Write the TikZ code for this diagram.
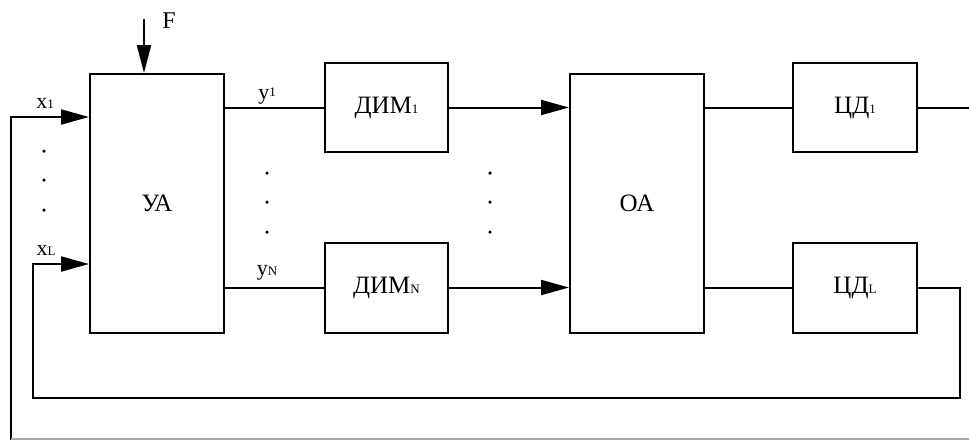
\documentclass[tikz,border=0pt]{standalone}
\usepackage{fontspec}
\setmainfont{Liberation Serif}
\usetikzlibrary{arrows.meta}
\newcommand\sm[1]{{\fontsize{13pt}{13pt}\selectfont #1}}
\begin{document}
\begin{tikzpicture}[x=1pt,y=-1pt,
  blk/.style={draw, line width=2pt, inner sep=0pt, font=\fontsize{25pt}{25pt}\selectfont},
  wire/.style={line width=2pt},
  arr/.style={wire, -{Triangle[length=28pt,width=15pt]}},
  lab/.style={inner sep=0pt, font=\fontsize{22pt}{22pt}\selectfont},
  dotn/.style={circle, fill, inner sep=0pt, minimum size=3.5pt}]
\useasboundingbox (0,0) rectangle (969,440);
% blocks
\node[blk, minimum width=134pt, minimum height=259pt] (UA) at (157,203.5) {УА};
\node[blk, minimum width=134pt, minimum height=259pt] (OA) at (637,203.5) {ОА};
\node[blk, minimum width=123pt, minimum height=89pt] (D1) at (386.5,107.5) {ДИМ\sm{1}};
\node[blk, minimum width=123pt, minimum height=90pt] (DN) at (386.5,287.5) {ДИМ\sm{N}};
\node[blk, minimum width=124pt, minimum height=89pt] (C1) at (855,107.5) {ЦД\sm{1}};
\node[blk, minimum width=124pt, minimum height=90pt] (CL) at (855,287.5) {ЦД\sm{L}};
% coordinates
\coordinate (Ftop) at (144,19);
\coordinate (x1in) at (11,117);
\coordinate (xLin) at (33,264);
\coordinate (bot) at (11,440);
\coordinate (out1) at (969,107.5);
\coordinate (turn) at (960,398);
\coordinate (bl) at (11,439);
\coordinate (br) at (969,439);
% labels
\node[lab, font=\fontsize{24pt}{24pt}\selectfont] (F) at (169,21) {F};
\node[lab] (lx1) at (45,103) {x\sm{1}};
\node[lab] (lxL) at (46,250) {x\sm{L}};
\node[lab] (ly1) at (267,96) {y\raisebox{3pt}{\sm{1}}};
\node[lab] (lyN) at (267,273) {y\sm{N}};
% dots
\foreach \n/\x/\y in {a/44/151,b/44/180,c/44/210,d/267/173,e/267/202,f/267/232,g/490/173,h/490/202,i/490/232}
  \node[dotn] (dot\n) at (\x,\y) {};
% connectors
\draw[arr, -{Triangle[length=28pt,width=14pt]}] (Ftop) -- (UA.north -| Ftop);
\draw[arr] (bot) -- (x1in) -- (UA.west |- x1in);
\draw[arr] (CL.east) -| (turn) -| (xLin) -- (UA.west |- xLin);
\draw[wire] (UA.east |- D1.west) -- (D1.west);
\draw[wire] (UA.east |- DN.west) -- (DN.west);
\draw[arr] (D1.east) -- (OA.west |- D1.east);
\draw[arr] (DN.east) -- (OA.west |- DN.east);
\draw[wire] (OA.east |- C1.west) -- (C1.west);
\draw[wire] (OA.east |- CL.west) -- (CL.west);
\draw[wire] (C1.east) -- (out1);
\draw[wire, gray!70, line width=1.5pt] (bl) -- (br);
\end{tikzpicture}
\end{document}
